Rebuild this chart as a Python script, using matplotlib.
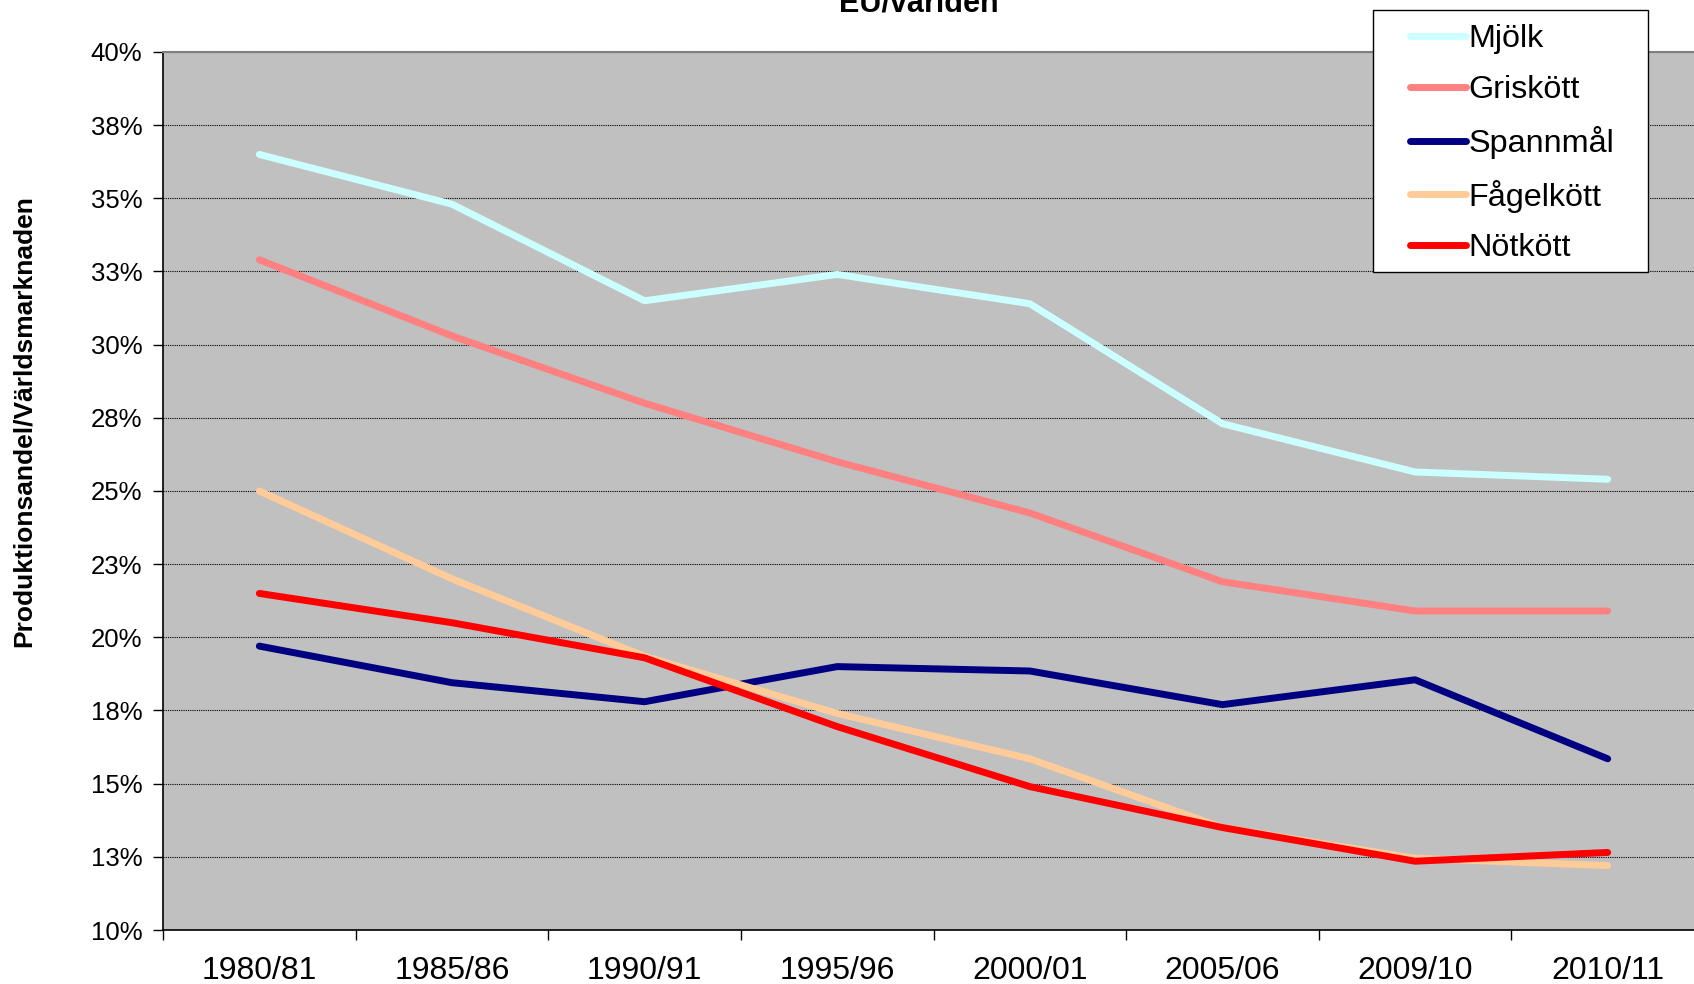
import matplotlib
matplotlib.use("Agg")
import matplotlib.pyplot as plt
from matplotlib.patches import Rectangle
import numpy as np

plt.rcParams['font.family'] = ['Liberation Sans', 'DejaVu Sans']

categories = ["1980/81", "1985/86", "1990/91", "1995/96", "2000/01", "2005/06", "2009/10", "2010/11"]
mjolk = [36.5, 34.8, 31.5, 32.4, 31.4, 27.3, 25.65, 25.4]
griskott = [32.9, 30.3, 28.0, 26.0, 24.25, 21.9, 20.9, 20.9]
spannmal = [19.7, 18.45, 17.8, 19.0, 18.85, 17.7, 18.55, 15.85]
fagelkott = [25.0, 22.0, 19.35, 17.4, 15.85, 13.5, 12.45, 12.2]
notkott = [21.5, 20.5, 19.3, 16.95, 14.9, 13.5, 12.35, 12.65]
series_names = ["Mjölk", "Griskött", "Spannmål", "Fågelkött", "Nötkött"]
series_colors = ["#CCFFFF", "#FF8080", "#000080", "#FFCC99", "#FF0000"]
ytick_values = [10, 12.5, 15, 17.5, 20, 22.5, 25, 27.5, 30, 32.5, 35, 37.5, 40]
ytick_labels = ["10%", "13%", "15%", "18%", "20%", "23%", "25%", "28%", "30%", "33%", "35%", "38%", "40%"]
title = "EU/världen"
ylabel = "Produktionsandel/Världsmarknaden"

W, H = 1694, 984
fig = plt.figure(figsize=(W / 100, H / 100), dpi=100)
left, right, top, bottom = 163, 1704, 52, 930
ax = fig.add_axes([left / W, 1 - bottom / H, (right - left) / W, (bottom - top) / H])
ax.set_facecolor("#C0C0C0")

x = np.arange(len(categories))
for vals, name, col in zip([mjolk, griskott, spannmal, fagelkott, notkott], series_names, series_colors):
    ax.plot(x, vals, color=col, lw=5.0, label=name, solid_capstyle='round', solid_joinstyle='round', zorder=3)

ax.set_xlim(-0.5, len(categories) - 0.5)
ax.set_ylim(10, 40)
ax.set_yticks(ytick_values)
ax.set_yticklabels(ytick_labels, fontsize=18.5)
ax.yaxis.grid(True, color="black", linestyle=(0, (1, 1)), lw=0.8)
ax.set_axisbelow(True)
ax.tick_params(axis='y', length=7, width=1, pad=8, color="black")

ax.set_xticks(np.arange(-0.5, len(categories), 1.0))
ax.set_xticklabels([])
ax.set_xticks(x, minor=True)
ax.set_xticklabels(categories, minor=True, fontsize=23)
ax.tick_params(axis='x', which='major', length=7, width=1, direction='out')
ax.tick_params(axis='x', which='minor', length=0, pad=19)

for s in ['left', 'bottom']:
    ax.spines[s].set_color("black")
    ax.spines[s].set_linewidth(1.2)
for s in ['top', 'right']:
    ax.spines[s].set_color("#808080")
    ax.spines[s].set_linewidth(1.5)

fig.text(919 / W, 1 - 12 / H, title, ha='center', va='baseline', fontsize=22, fontweight='bold')
fig.text(24 / W, 1 - 421 / H, ylabel, ha='center', va='center', rotation=90, fontsize=19, fontweight='bold')

# legend box
bx0, bx1, by0, by1 = 1373, 1648, 10, 272
ax.add_patch(Rectangle((bx0 / W, 1 - by1 / H), (bx1 - bx0) / W, (by1 - by0) / H,
                       transform=fig.transFigure, facecolor='white', edgecolor='black', lw=1.0,
                       zorder=8, clip_on=False))
leg = ax.legend(loc='upper left', bbox_to_anchor=(1410 / W, 1 - 24.5 / H), bbox_transform=fig.transFigure,
                fontsize=23.3, frameon=False, handlelength=1.73, handletextpad=0.08, labelspacing=0.64,
                borderpad=0, borderaxespad=0)
leg.set_zorder(9)
for lh in leg.get_lines():
    lh.set_linewidth(5)

fig.savefig("out.png", dpi=100)
